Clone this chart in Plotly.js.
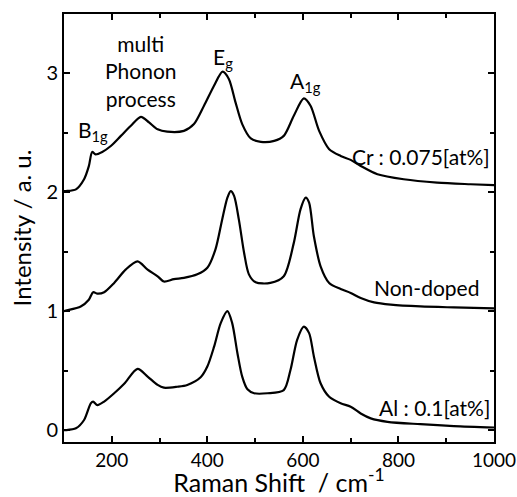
<!DOCTYPE html>
<html>
<head>
<meta charset="utf-8">
<script src="https://cdn.plot.ly/plotly-3.0.1.min.js"></script>
<style>html,body{margin:0;padding:0;background:#fff;}#chart{width:517px;height:497px;}</style>
</head>
<body>
<div id="chart"></div>
<script>
// Raman shift (cm^-1) and intensity (a.u., offset)
const alX = [100,104,125,142,156,161,170,184,205,226,254,275,296,309,337,358,386,400,414,428,442,452,463,473,484,498,526,560,574,588,602,613,623,637,655,679,700,721,742,777,846,916,1000];
const alY = [0.0,0.0,0.015,0.085,0.225,0.24,0.21,0.24,0.31,0.39,0.515,0.45,0.38,0.357,0.365,0.38,0.445,0.535,0.70,0.90,1.0,0.90,0.647,0.45,0.343,0.31,0.31,0.337,0.506,0.76,0.87,0.816,0.62,0.394,0.28,0.225,0.197,0.14,0.099,0.07,0.05,0.034,0.022];

const ndX = [100,104,135,152,161,170,184,205,229,254,275,296,309,330,351,379,400,417,431,442,449,456,466,477,487,501,532,560,581,595,606,613,623,637,655,679,700,721,749,784,846,916,1000];
const ndY = [1.0,1.005,1.04,1.097,1.16,1.148,1.16,1.238,1.35,1.42,1.35,1.294,1.25,1.27,1.28,1.31,1.365,1.52,1.77,1.955,2.01,1.97,1.77,1.49,1.31,1.243,1.238,1.294,1.575,1.857,1.955,1.913,1.63,1.378,1.238,1.187,1.154,1.111,1.074,1.055,1.04,1.032,1.024];

const crX = [100,104,125,142,152,159,166,180,198,219,240,261,278,296,316,351,372,393,414,432,445,459,473,491,512,540,560,581,602,616,634,655,679,700,721,756,811,881,951,1000];
const crY = [2.01,2.011,2.025,2.11,2.22,2.34,2.32,2.34,2.39,2.475,2.56,2.635,2.588,2.53,2.51,2.517,2.574,2.728,2.897,3.015,2.954,2.757,2.574,2.453,2.425,2.433,2.475,2.644,2.79,2.728,2.517,2.363,2.306,2.273,2.222,2.152,2.11,2.082,2.068,2.06];

const xTickVals = [200,400,600,800,1000];
const yTickVals = [0,1,2,3];

const FONT = 'Lato, "Open Sans", sans-serif';
const line = {color:'#000', width:2.2, shape:'spline', smoothing:0.8};

const traces = [
  {x:alX, y:alY, mode:'lines', line:line, hoverinfo:'skip'},
  {x:ndX, y:ndY, mode:'lines', line:line, hoverinfo:'skip'},
  {x:crX, y:crY, mode:'lines', line:line, hoverinfo:'skip'}
];

const annFont = {family:FONT, size:21, color:'#000'};
const layout = {
  width:517, height:497,
  margin:{l:64, r:23, t:14, b:55},
  paper_bgcolor:'#fff', plot_bgcolor:'#fff',
  showlegend:false,
  font:{family:FONT, color:'#000'},
  xaxis:{
    range:[100,1000], tickvals:xTickVals, ticks:'inside', ticklen:6, tickwidth:2, tickcolor:'#000',
    minor:{dtick:100, tick0:0, ticks:'inside', ticklen:4, tickwidth:2, tickcolor:'#000'},
    showline:true, linewidth:2, linecolor:'#000', mirror:'ticks', showgrid:false, zeroline:false,
    tickfont:{family:FONT, size:19, color:'#000'}, ticklabeloverflow:'allow',
    title:{text:'Raman Shift&nbsp;&nbsp;/ cm<sup>-1</sup>', font:{family:FONT, size:25, color:'#000'}, standoff:10}
  },
  yaxis:{
    range:[-0.1,3.5], tickvals:yTickVals, ticks:'inside', ticklen:6, tickwidth:2, tickcolor:'#000',
    minor:{dtick:0.5, tick0:0, ticks:'inside', ticklen:4, tickwidth:2, tickcolor:'#000'},
    showline:true, linewidth:2, linecolor:'#000', mirror:'ticks', showgrid:false, zeroline:false,
    tickfont:{family:FONT, size:20, color:'#000'},
    title:{text:'Intensity / a. u.', font:{family:FONT, size:24, color:'#000'}, standoff:8}
  },
  annotations:[
    {x:261, y:3.02, xref:'x', yref:'y', text:'multi<br>Phonon<br>process', showarrow:false, font:annFont, align:'center', xanchor:'center', yanchor:'middle'},
    {x:433, y:3.13, xref:'x', yref:'y', text:'E<sub>g</sub>', showarrow:false, font:annFont, xanchor:'center', yanchor:'middle'},
    {x:160, y:2.52, xref:'x', yref:'y', text:'B<sub>1g</sub>', showarrow:false, font:annFont, xanchor:'center', yanchor:'middle'},
    {x:605, y:2.93, xref:'x', yref:'y', text:'A<sub>1g</sub>', showarrow:false, font:annFont, xanchor:'center', yanchor:'middle'},
    {x:995, y:2.30, xref:'x', yref:'y', text:'Cr : 0.075[at%]', showarrow:false, font:annFont, xanchor:'right', yanchor:'middle'},
    {x:973, y:1.200, xref:'x', yref:'y', text:'Non-doped', showarrow:false, font:annFont, xanchor:'right', yanchor:'middle'},
    {x:995, y:0.19, xref:'x', yref:'y', text:'Al : 0.1[at%]', showarrow:false, font:annFont, xanchor:'right', yanchor:'middle'}
  ]
};

Plotly.newPlot('chart', traces, layout, {staticPlot:true, displayModeBar:false});
</script>
</body>
</html>
